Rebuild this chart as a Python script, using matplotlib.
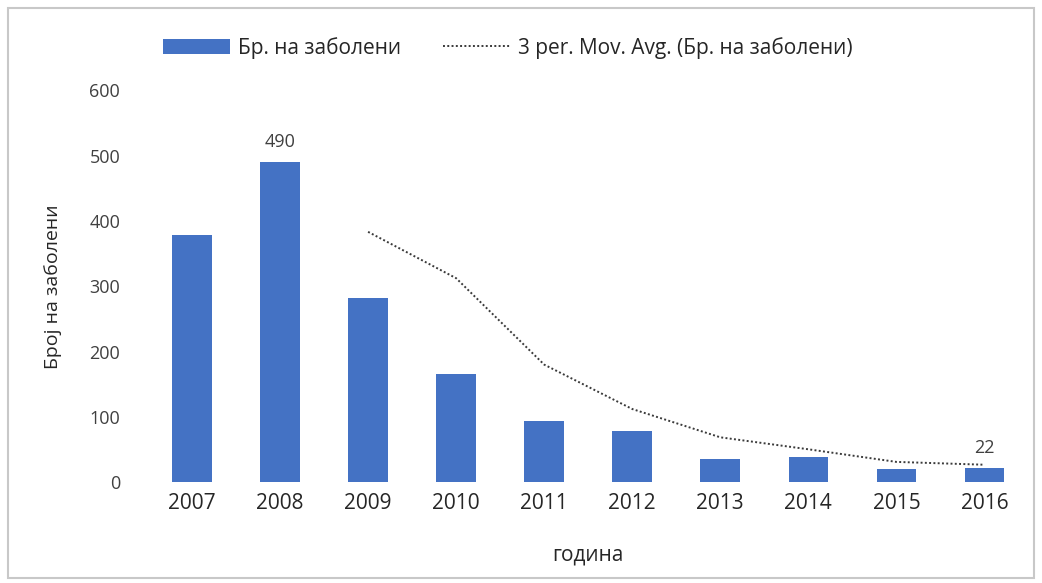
import numpy as np
import matplotlib.pyplot as plt
from matplotlib.patches import Rectangle

plt.rcParams['font.family'] = ['Open Sans', 'DejaVu Sans']

# податоци прочитани од графиконот
godini = ['2007', '2008', '2009', '2010', '2011', '2012', '2013', '2014', '2015', '2016']
zaboleni = [378, 490, 282, 165, 93, 78, 35, 38, 20, 22]

# 3-периоден подвижен просек (Excel trendline)
mov_avg = [np.nan, np.nan] + [np.mean(zaboleni[i - 2:i + 1]) for i in range(2, len(zaboleni))]

fig = plt.figure(figsize=(10.42, 5.83), dpi=100)
ax = fig.add_axes([0.142, 0.173, 0.845, 0.672])

x = np.arange(len(godini))
bars = ax.bar(x, zaboleni, width=0.45, color='#4472C4', label='Бр. на заболени', zorder=2)
line, = ax.plot(x, mov_avg, color='#3a3a3a', linestyle=(0, (1, 1.2)), linewidth=1.4,
                label='3 per. Mov. Avg. (Бр. на заболени)', zorder=3)

for i in (1, 9):
    ax.annotate(str(zaboleni[i]), (x[i], zaboleni[i]), xytext=(0, 8),
                textcoords='offset points', ha='center', va='bottom',
                fontsize=13, color='#404040')

ax.set_xlim(-0.5, 9.5)
ax.set_ylim(0, 600)
ax.set_yticks(range(0, 601, 100))
ax.set_xticks(x)
ax.set_xticklabels(godini, fontsize=15, color='#262626')
ax.tick_params(axis='y', labelsize=13, labelcolor='#404040', length=0, pad=20)
ax.tick_params(axis='x', length=0, pad=8)
for s in ax.spines.values():
    s.set_visible(False)

ax.set_ylabel('Број на заболени', fontsize=14, color='#262626', labelpad=20)
ax.set_xlabel('година', fontsize=15, color='#262626', labelpad=22)

ax.legend([bars, line], ['Бр. на заболени', '3 per. Mov. Avg. (Бр. на заболени)'],
          loc='lower left', bbox_to_anchor=(0.008, 1.06), ncol=2, frameon=False,
          fontsize=15, handlelength=3.2, handletextpad=0.4, columnspacing=2.0,
          labelcolor='#262626', borderaxespad=0)

fig.patches.append(Rectangle((0.008, 0.008), 0.984, 0.978, transform=fig.transFigure,
                             fill=False, edgecolor='#c8c8c8', linewidth=1.5))

fig.savefig('out.png', dpi=100)
